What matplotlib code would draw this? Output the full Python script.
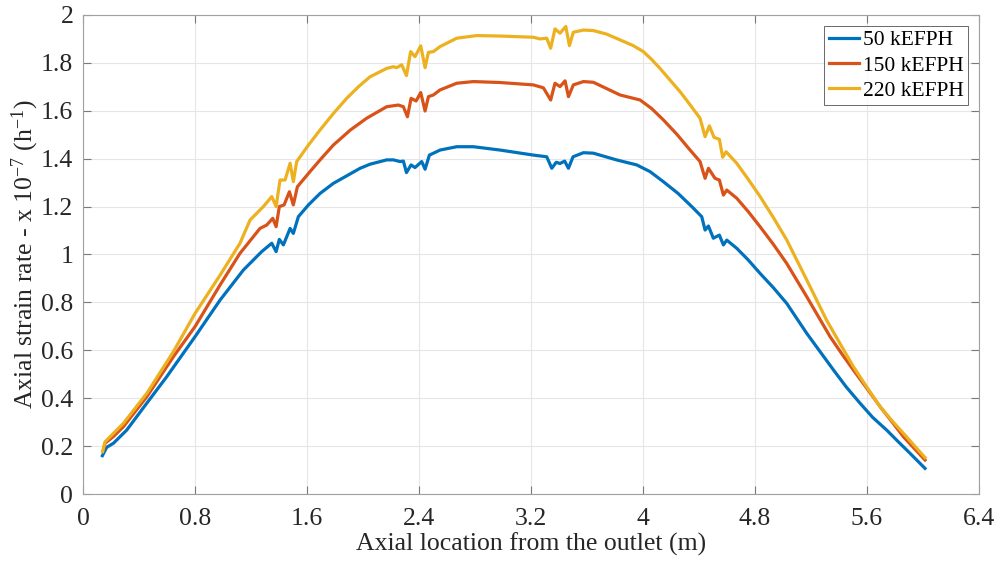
import matplotlib
matplotlib.use("Agg")
import matplotlib.pyplot as plt

plt.rcParams['font.family'] = ['Liberation Serif', 'DejaVu Serif']
plt.rcParams['mathtext.fontset'] = 'custom'
plt.rcParams['mathtext.rm'] = 'Liberation Serif'
plt.rcParams['mathtext.it'] = 'Liberation Serif:italic'

# strain rate along the tube, three firing rates
x_50 = [0.138, 0.169, 0.217, 0.312, 0.455, 0.598, 0.8, 0.979, 1.145, 1.276, 1.348, 1.379,
        1.402, 1.431, 1.479, 1.502, 1.538, 1.61, 1.693, 1.788, 1.979, 2.05, 2.169, 2.217,
        2.264, 2.288, 2.31, 2.343, 2.371, 2.419, 2.443, 2.474, 2.55, 2.669, 2.788, 2.979,
        3.217, 3.312, 3.348, 3.38, 3.407, 3.44, 3.467, 3.5, 3.574, 3.645, 3.81, 3.955,
        4.05, 4.145, 4.25, 4.348, 4.419, 4.443, 4.467, 4.502, 4.545, 4.574, 4.598, 4.669,
        4.75, 4.836, 4.93, 5.026, 5.169, 5.26, 5.36, 5.45, 5.55, 5.64, 5.74, 5.82, 5.907,
        6.014]
y_50 = [0.16, 0.195, 0.212, 0.267, 0.379, 0.49, 0.657, 0.81, 0.935, 1.012, 1.047, 1.012,
        1.063, 1.04, 1.109, 1.088, 1.158, 1.207, 1.255, 1.297, 1.36, 1.377, 1.395, 1.395,
        1.388, 1.39, 1.342, 1.374, 1.363, 1.388, 1.356, 1.415, 1.436, 1.45, 1.45, 1.436,
        1.415, 1.408, 1.36, 1.385, 1.38, 1.39, 1.36, 1.408, 1.425, 1.423, 1.395, 1.374,
        1.346, 1.304, 1.255, 1.2, 1.158, 1.102, 1.119, 1.068, 1.081, 1.04, 1.06, 1.026,
        0.978, 0.921, 0.862, 0.796, 0.671, 0.598, 0.518, 0.448, 0.379, 0.32, 0.267, 0.22,
        0.17, 0.107]

x_150 = [0.145, 0.157, 0.217, 0.288, 0.455, 0.645, 0.8, 0.979, 1.121, 1.264, 1.312, 1.355,
         1.379, 1.402, 1.436, 1.474, 1.502, 1.531, 1.621, 1.693, 1.788, 1.91, 2.026, 2.169,
         2.252, 2.288, 2.317, 2.343, 2.379, 2.412, 2.443, 2.467, 2.502, 2.55, 2.669, 2.788,
         2.979, 3.217, 3.288, 3.34, 3.371, 3.407, 3.443, 3.467, 3.502, 3.574, 3.645, 3.836,
         3.979, 4.06, 4.145, 4.24, 4.336, 4.407, 4.443, 4.467, 4.514, 4.545, 4.574, 4.598,
         4.669, 4.75, 4.836, 4.93, 5.026, 5.169, 5.336, 5.42, 5.502, 5.6, 5.693, 5.78, 5.86,
         6.014]
y_150 = [0.184, 0.212, 0.24, 0.281, 0.406, 0.573, 0.699, 0.873, 1.005, 1.109, 1.123, 1.151,
         1.116, 1.2, 1.207, 1.262, 1.207, 1.283, 1.346, 1.395, 1.457, 1.52, 1.569, 1.617,
         1.624, 1.617, 1.575, 1.652, 1.641, 1.676, 1.599, 1.659, 1.666, 1.687, 1.715, 1.722,
         1.718, 1.708, 1.696, 1.645, 1.715, 1.701, 1.725, 1.659, 1.708, 1.722, 1.719, 1.666,
         1.645, 1.61, 1.562, 1.503, 1.436, 1.388, 1.318, 1.36, 1.318, 1.311, 1.248, 1.269,
         1.235, 1.18, 1.116, 1.043, 0.963, 0.824, 0.657, 0.585, 0.518, 0.44, 0.365, 0.3,
         0.239, 0.142]

x_220 = [0.14, 0.157, 0.288, 0.455, 0.645, 0.8, 0.979, 1.121, 1.193, 1.288, 1.348, 1.379,
         1.407, 1.443, 1.479, 1.502, 1.526, 1.61, 1.693, 1.79, 1.883, 1.97, 2.05, 2.169,
         2.217, 2.24, 2.276, 2.31, 2.34, 2.371, 2.412, 2.443, 2.467, 2.502, 2.55, 2.669,
         2.812, 2.979, 3.217, 3.264, 3.312, 3.34, 3.371, 3.407, 3.448, 3.474, 3.502, 3.574,
         3.645, 3.74, 3.836, 3.93, 4.002, 4.06, 4.121, 4.19, 4.264, 4.31, 4.407, 4.443,
         4.474, 4.507, 4.545, 4.569, 4.593, 4.669, 4.75, 4.836, 4.93, 5.026, 5.169, 5.31,
         5.41, 5.502, 5.6, 5.693, 5.78, 5.86, 6.014]
y_220 = [0.177, 0.218, 0.295, 0.42, 0.594, 0.754, 0.914, 1.047, 1.144, 1.2, 1.242, 1.2,
         1.311, 1.311, 1.381, 1.304, 1.388, 1.457, 1.52, 1.59, 1.652, 1.702, 1.742, 1.777,
         1.784, 1.78, 1.792, 1.747, 1.847, 1.826, 1.871, 1.78, 1.844, 1.847, 1.868, 1.903,
         1.914, 1.912, 1.907, 1.9, 1.903, 1.861, 1.942, 1.924, 1.952, 1.872, 1.928, 1.937,
         1.935, 1.92, 1.896, 1.872, 1.847, 1.815, 1.777, 1.73, 1.68, 1.645, 1.569, 1.492,
         1.537, 1.489, 1.481, 1.406, 1.429, 1.381, 1.315, 1.242, 1.155, 1.061, 0.894, 0.727,
         0.625, 0.532, 0.445, 0.365, 0.305, 0.253, 0.152]

labels = ['50 kEFPH', '150 kEFPH', '220 kEFPH']
colors = ['#0072BD', '#D95319', '#EDB120']

x_ticks = [0, 0.8, 1.6, 2.4, 3.2, 4, 4.8, 5.6, 6.4]
x_tick_labels = ['0', '0.8', '1.6', '2.4', '3.2', '4', '4.8', '5.6', '6.4']
y_ticks = [0, 0.2, 0.4, 0.6, 0.8, 1, 1.2, 1.4, 1.6, 1.8, 2]
y_tick_labels = ['0', '0.2', '0.4', '0.6', '0.8', '1', '1.2', '1.4', '1.6', '1.8', '2']

fig = plt.figure(figsize=(9.97, 5.61), dpi=100)
ax = fig.add_axes([0.0833, 0.1194, 0.8987, 0.8539])

for xs, ys, lab, c in zip([x_50, x_150, x_220], [y_50, y_150, y_220], labels, colors):
    ax.plot(xs, ys, color=c, lw=2.3, label=lab)

ax.set_xlim(0, 6.4)
ax.set_ylim(0, 2)
ax.set_xticks(x_ticks)
ax.set_xticklabels(x_tick_labels)
ax.set_yticks(y_ticks)
ax.set_yticklabels(y_tick_labels)
ax.grid(True, color='#e6e6e6', lw=0.8)
ax.set_axisbelow(True)
ax.tick_params(direction='in', length=6, width=0.8, color='#7a7a7a',
               top=True, right=True, labelsize=18.5, labelcolor='#262626')
ax.tick_params(axis='x', pad=10)
ax.tick_params(axis='y', pad=7)
for s in ax.spines.values():
    s.set_color('#a0a0a0')
    s.set_linewidth(0.8)

ax.set_xlabel('Axial location from the outlet (m)', fontsize=18.5, color='#262626', labelpad=2)
ax.set_ylabel(r'Axial strain rate - x 10$^{-7}$ (h$^{-1}$)', fontsize=18.5, color='#262626', labelpad=0)

leg = ax.legend(loc='upper right', fontsize=15.5, frameon=True, fancybox=False,
                handlelength=1.4, handletextpad=0.2, borderpad=0.2, labelspacing=0.25,
                borderaxespad=0.5)
leg.get_frame().set_edgecolor('#262626')
leg.get_frame().set_linewidth(0.6)

fig.savefig('out.png', dpi=100)
